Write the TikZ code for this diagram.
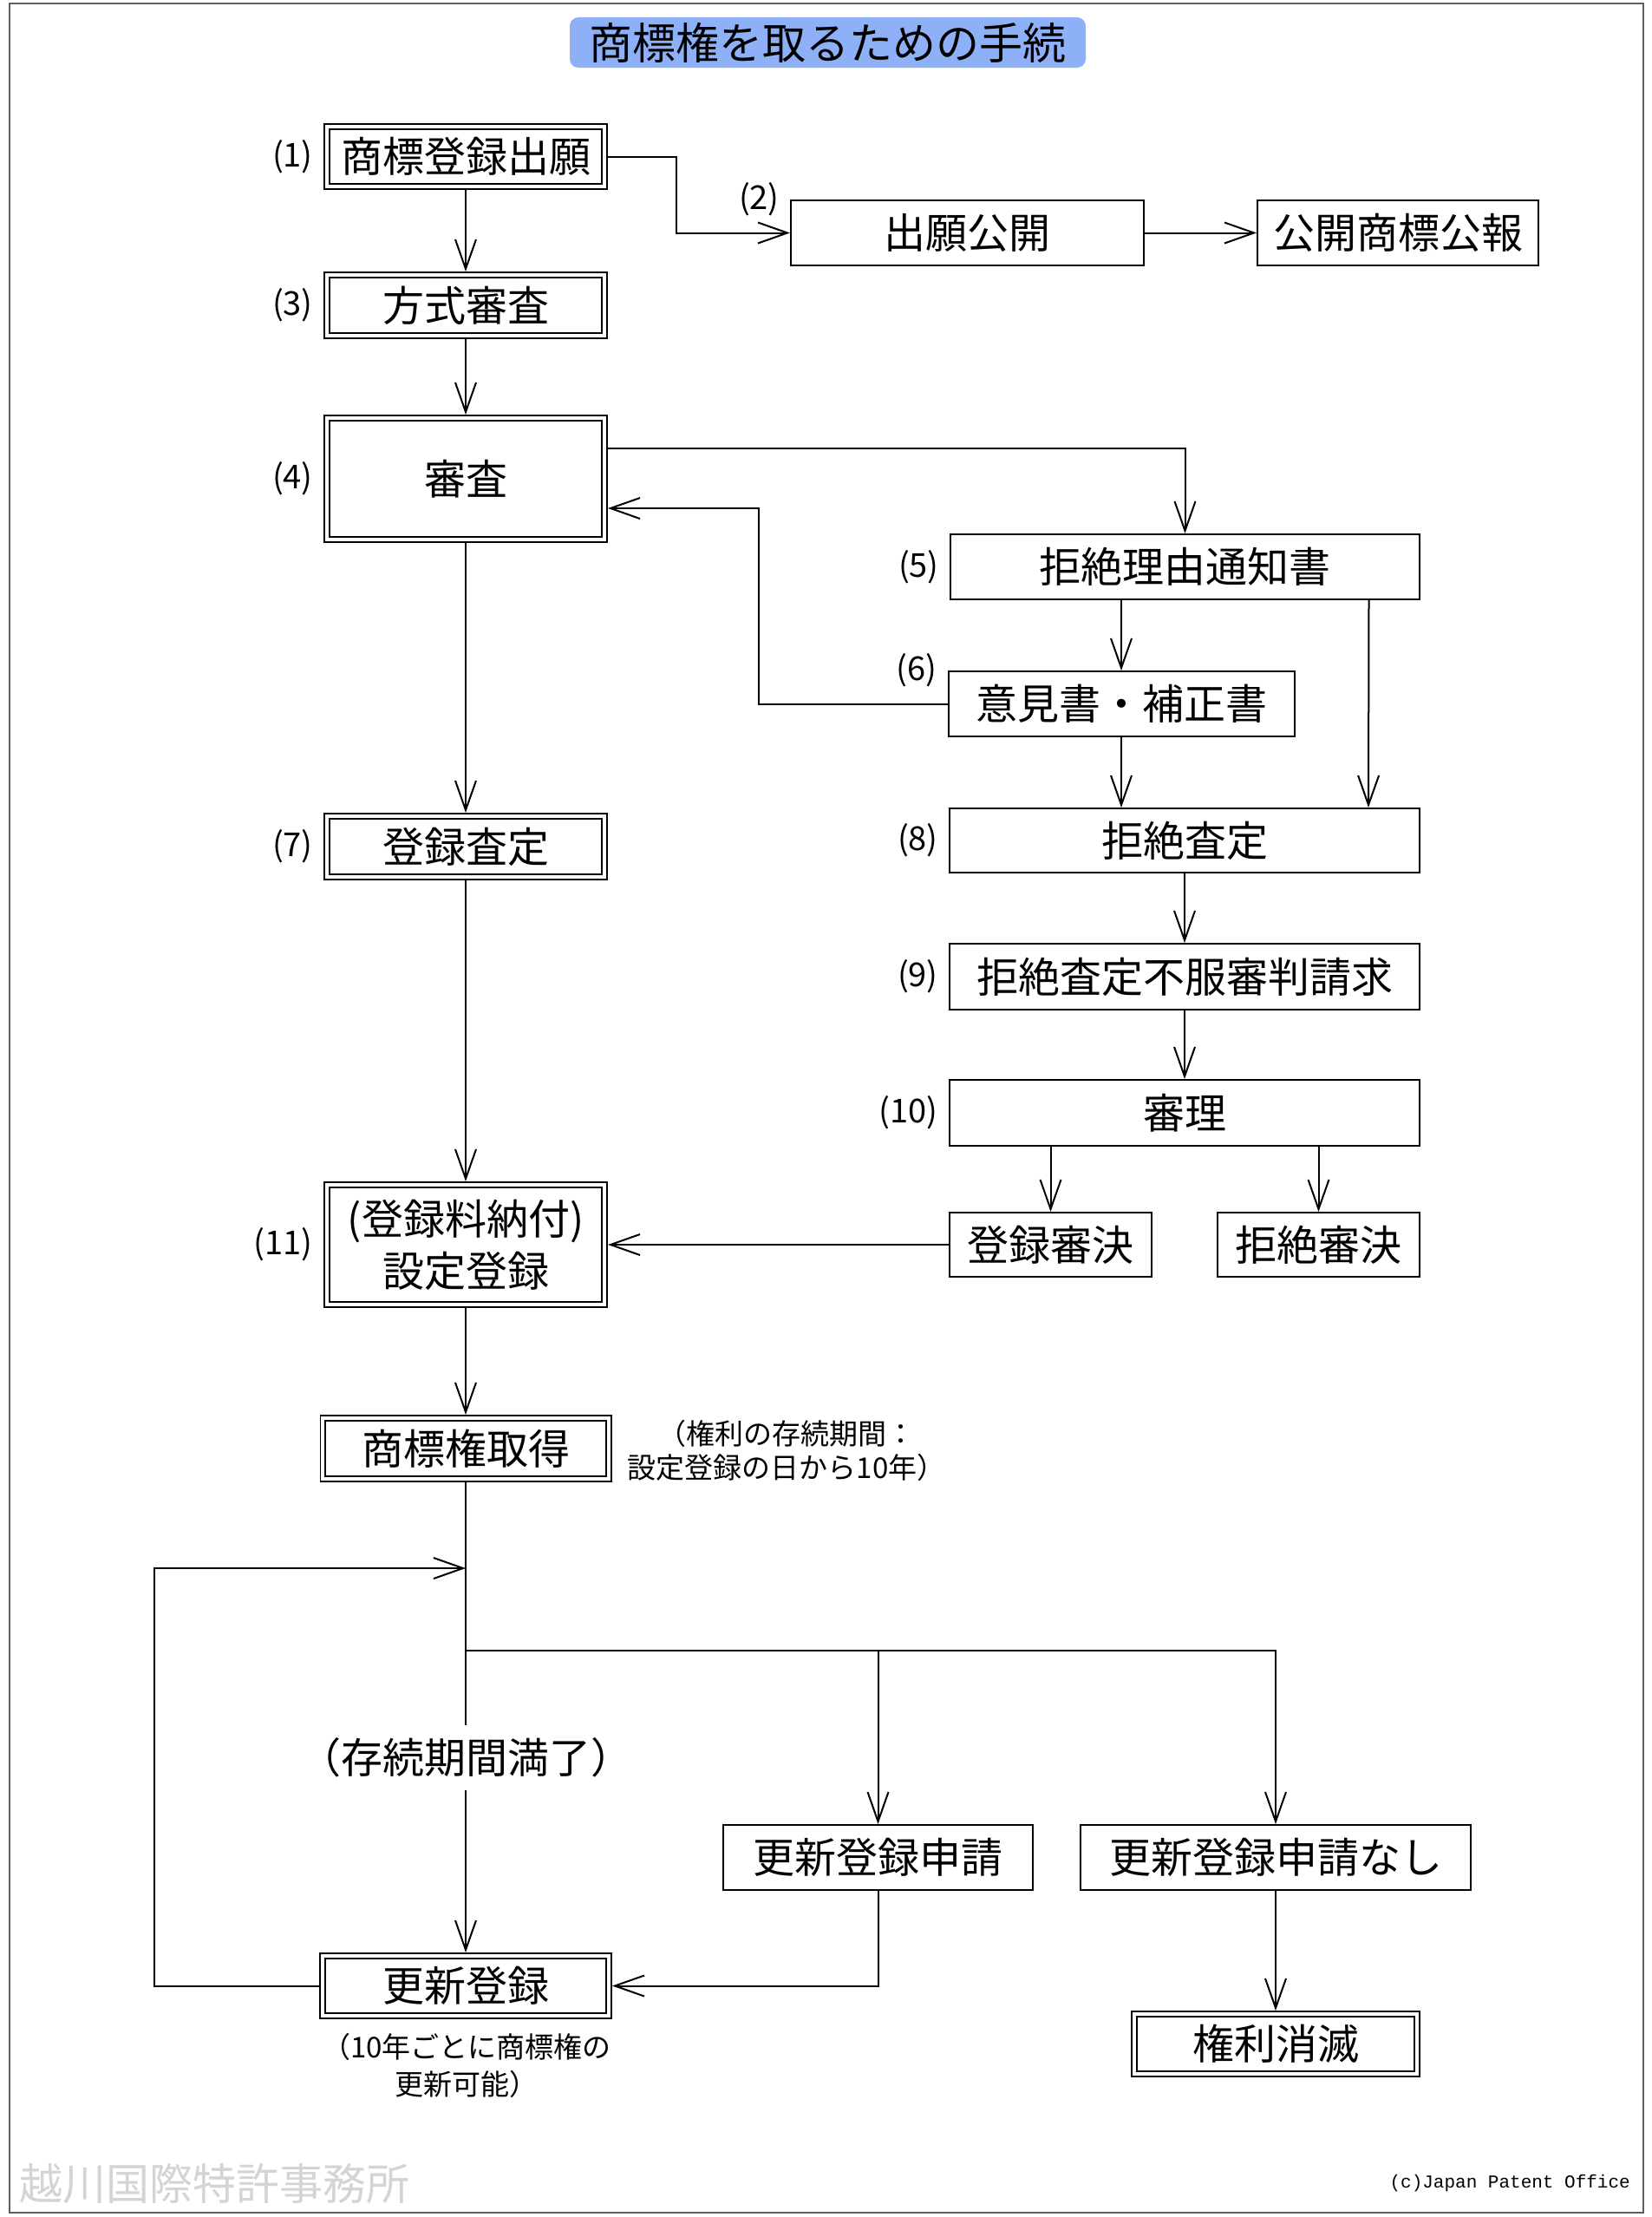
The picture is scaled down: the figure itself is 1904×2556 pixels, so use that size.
\documentclass[tikz,border=0pt]{standalone}
\usepackage{fontspec}
\setmainfont{Noto Sans CJK JP}
\newfontfamily\latinmono{Liberation Mono}
\usetikzlibrary{arrows.meta,positioning}

\definecolor{titleblue}{RGB}{141,176,246}
\definecolor{framegray}{RGB}{95,95,95}
\definecolor{markgray}{RGB}{212,212,212}

\tikzset{
  link/.style={draw, line width=2pt},
  flow/.style={link, -{Straight Barb[length=34pt,width=24pt]}},
  stepbox/.style={draw, line width=2pt, inner sep=0pt,
    font=\fontsize{48}{60}\selectfont},
  dblbox/.style={draw, line width=1.8pt, double, double distance=4pt,
    outer sep=3.8pt, inner sep=0pt, align=center,
    font=\fontsize{48}{60}\selectfont},
  numlabel/.style={inner sep=0pt, font=\fontsize{38}{42}\selectfont},
  remark/.style={inner sep=0pt, align=center}
}

\begin{document}
\begin{tikzpicture}[x=1pt, y=-1pt]
%\draw[help lines] (0,0) grid (1904,2556);
\useasboundingbox (0,0) rectangle (1904,2556);
\draw[framegray, line width=2.5pt] (11,4) rectangle (1895,2551);

\node[fill=titleblue, rounded corners=10pt, minimum width=595pt,
  minimum height=58pt, inner sep=0pt, font=\fontsize{50}{56}\selectfont]
  (title) at (954.5,49) {商標権を取るための手続};

% left column
\node[dblbox, minimum width=320.4pt, minimum height=69.4pt] (app) at (537,180.5) {商標登録出願};
\node[dblbox, minimum width=320.4pt, minimum height=70.4pt] (formal) at (537,352) {方式審査};
\node[dblbox, minimum width=320.4pt, minimum height=140.4pt] (exam) at (537,552) {審査};
\node[dblbox, minimum width=320.4pt, minimum height=70.4pt] (regdec) at (537,976) {登録査定};
\node[dblbox, minimum width=320.4pt, minimum height=138.4pt] (setreg) at (537,1435) {(登録料納付)\\設定登録};
\node[dblbox, minimum width=329.4pt, minimum height=70.4pt] (acq) at (537,1670) {商標権取得};
\node[dblbox, minimum width=330.4pt, minimum height=69.4pt] (renew) at (537,2289.5) {更新登録};

% right column
\node[stepbox, minimum width=407pt, minimum height=75pt] (pub) at (1115.5,268.5) {出願公開};
\node[stepbox, minimum width=324pt, minimum height=75pt] (gazette) at (1612,268.5) {公開商標公報};
\node[stepbox, minimum width=541pt, minimum height=75pt] (notice) at (1366.5,653.5) {拒絶理由通知書};
\node[stepbox, minimum width=399pt, minimum height=75pt] (opinion) at (1293,811.5) {意見書・補正書};
\node[stepbox, minimum width=542pt, minimum height=74pt] (refusal) at (1366,969) {拒絶査定};
\node[stepbox, minimum width=542pt, minimum height=76pt] (appeal) at (1366,1126) {拒絶査定不服審判請求};
\node[stepbox, minimum width=542pt, minimum height=76pt] (trial) at (1366,1283) {審理};
\node[stepbox, minimum width=233pt, minimum height=74pt] (grant) at (1211.5,1435) {登録審決};
\node[stepbox, minimum width=233pt, minimum height=74pt] (reject) at (1520.5,1435) {拒絶審決};

% renewal part
\node[stepbox, minimum width=357pt, minimum height=75pt] (renreq) at (1012.5,2141.5) {更新登録申請};
\node[stepbox, minimum width=450pt, minimum height=75pt] (norenew) at (1471,2141.5) {更新登録申請なし};
\node[dblbox, minimum width=326.4pt, minimum height=69.4pt] (lapse) at (1471,2356.5) {権利消滅};
\node[inner sep=0pt, minimum height=75pt, font=\fontsize{48}{60}\selectfont] (expiry) at (537,2026.5) {（存続期間満了）};
\coordinate (loopin) at (537,1808);
\coordinate (split) at (537,1903);

% step numbers
\node[numlabel, left=12pt of app] (n1) {(1)};
\node[numlabel, left=12pt of pub.north west] (n2) {(2)};
\node[numlabel, left=12pt of formal] (n3) {(3)};
\node[numlabel, left=12pt of exam] (n4) {(4)};
\node[numlabel, left=12pt of notice] (n5) {(5)};
\node[numlabel, left=12pt of opinion.north west] (n6) {(6)};
\node[numlabel, left=12pt of regdec] (n7) {(7)};
\node[numlabel, left=12pt of refusal] (n8) {(8)};
\node[numlabel, left=12pt of appeal] (n9) {(9)};
\node[numlabel, left=12pt of trial] (n10) {(10)};
\node[numlabel, left=12pt of setreg] (n11) {(11)};

\node[remark, font=\fontsize{33}{39}\selectfont] (term) at (907,1672)
  {（権利の存続期間：\\設定登録の日から10年）};
\node[remark, font=\fontsize{33}{43}\selectfont] (every) at (538,2381.5)
  {（10年ごとに商標権の\\更新可能）};

\draw[flow] (app) -- (formal);
\draw[flow] (app.east) -- ++(79,0) |- (pub.west);
\draw[flow] (pub) -- (gazette);
\draw[flow] (formal) -- (exam);
\draw[flow] ([yshift=35pt]exam.east) -| (notice.north);
\draw[flow] (notice.south -| opinion.north) -- (opinion.north);
\draw[flow] ([xshift=212pt]notice.south) -- ([xshift=212pt]refusal.north);
\draw[flow] (opinion.west) -- ++(-218,0) |- ([yshift=-34pt]exam.east);
\draw[flow] (opinion.south) -- (opinion.south |- refusal.north);
\draw[flow] (refusal) -- (appeal);
\draw[flow] (appeal) -- (trial);
\draw[flow] (trial.south -| grant.north) -- (grant.north);
\draw[flow] (trial.south -| reject.north) -- (reject.north);
\draw[flow] (grant.west) -- (setreg.east);
\draw[flow] (exam) -- (regdec);
\draw[flow] (regdec) -- (setreg);
\draw[flow] (setreg) -- (acq);

\draw[link] (acq.south) -- (split) -- (expiry.north);
\draw[flow] (expiry.south) -- (renew.north);
\draw[flow] (split) -| (renreq.north);
\draw[flow] (split) -| (norenew.north);
\draw[flow] (renreq.south) |- (renew.east);
\draw[flow] (renew.west) -- ++(-190,0) |- (loopin);
\draw[flow] (norenew) -- (lapse);

\node[anchor=west, inner sep=0pt, text=markgray, font=\fontsize{50}{56}\selectfont]
  (mark) at (22,2518) {越川国際特許事務所};
\node[anchor=east, inner sep=0pt, font=\latinmono\fontsize{21}{24}\selectfont]
  (copy) at (1880,2517) {(c)Japan Patent Office};
\end{tikzpicture}
\end{document}
